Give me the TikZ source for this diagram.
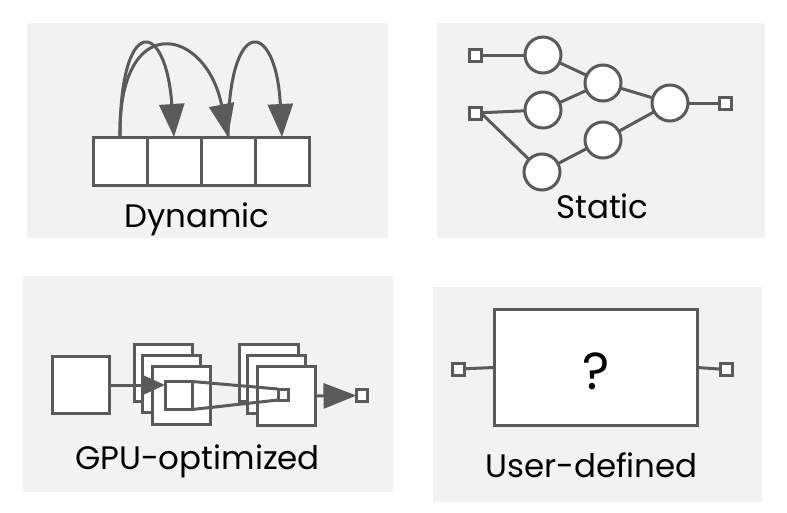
\documentclass[tikz,border=0pt]{standalone}
\usepackage{fontspec}
\setmainfont{Poppins}
\usetikzlibrary{arrows.meta}
\definecolor{ink}{RGB}{90,90,90}
\definecolor{panel}{RGB}{242,242,242}
\begin{document}
\begin{tikzpicture}[x=1pt,y=-1pt,
  every node/.style={inner sep=0pt, outer sep=0pt},
  box/.style={draw=ink, fill=white, line width=3pt, rectangle},
  port/.style={box, minimum width=12pt, minimum height=12pt},
  ball/.style={draw=ink, fill=white, line width=3pt, circle, minimum size=36pt},
  wire/.style={draw=ink, line width=3pt},
  bigarrow/.style={wire, -{Triangle[length=33pt,width=25pt]}},
  smallarrow/.style={wire, -{Triangle[length=23pt,width=20pt]}},
  lbl/.style={anchor=base, text=black, font=\fontsize{32.5}{38}\selectfont},
]
\useasboundingbox (0,0) rectangle (787,512);
% panels
\fill[panel] (27,23) rectangle (388,238);
\fill[panel] (437,23) rectangle (765,238);
\fill[panel] (23,276) rectangle (393,492);
\fill[panel] (433,287) rectangle (762,502);

% ---------- Dynamic ----------
\foreach \i/\x in {1/120,2/174,3/228,4/282}
  \node[box, minimum width=54pt, minimum height=48pt] (b\i) at (\x,161) {};
\draw[bigarrow] (b1.north) .. controls +(0,-124) and +(-8,-118) .. (b2.north);
\draw[bigarrow] (b1.north) .. controls +(-2,-128) and +(-22,-110) .. (b3.north);
\draw[bigarrow] (b3.north) .. controls +(0,-124) and +(-6,-118) .. (b4.north);
\node[lbl] (tdyn) at (197,227) {Dynamic};

% ---------- Static ----------
\node[port] (in1) at (475,55) {};
\node[port] (in2) at (475,113) {};
\node[ball] (A) at (543,55) {};
\node[ball] (B) at (543,110) {};
\node[ball] (C) at (542,172) {};
\node[ball] (D) at (603,83) {};
\node[ball] (E) at (603,140) {};
\node[ball] (F) at (670,103) {};
\node[port] (out1) at (725,103) {};
\draw[wire] (in1) -- (A);
\draw[wire] (in2) -- (B);
\draw[wire] (in2.east) -- (C);
\draw[wire] (A) -- (D);
\draw[wire] (B) -- (D);
\draw[wire] (C) -- (E);
\draw[wire] (D) -- (F);
\draw[wire] (E) -- (F);
\draw[wire] (F) -- (out1);
\node[lbl] (tsta) at (602.5,218) {Static};

% ---------- GPU-optimized ----------
\node[box, minimum width=57pt, minimum height=57pt] (big) at (81,385) {};
\node[box, minimum width=58pt, minimum height=57pt] (s1a) at (163.5,373) {};
\node[box, minimum width=58pt, minimum height=57pt] (s1b) at (171.5,383.5) {};
\node[box, minimum width=58pt, minimum height=58pt] (s1c) at (181.5,395.5) {};
\node[box, minimum width=27pt, minimum height=28pt] (inner) at (178.5,395.5) {};
\node[box, minimum width=59pt, minimum height=57pt] (s2a) at (269,372.5) {};
\node[box, minimum width=58pt, minimum height=58pt] (s2b) at (276.5,384.5) {};
\node[box, minimum width=58pt, minimum height=59pt] (s2c) at (286.5,396) {};
\node[box, minimum width=10pt, minimum height=11pt] (tiny) at (283,394.5) {};
\node[port, minimum width=11pt, minimum height=12pt] (out2) at (362,395.5) {};
\draw[wire] (inner.north east) -- (tiny.north west);
\draw[wire] (inner.south east) -- (tiny.south west);
\draw[smallarrow] (big.east) -- (big.east -| inner.west);
\draw[bigarrow] (s2c.east) -- (out2.west);
\node[lbl] (tgpu) at (197.5,469) {GPU-optimized};

% ---------- User-defined ----------
\node[box, minimum width=203pt, minimum height=116pt] (udf) at (596,367.5) {};
\node[port] (in3) at (458,369) {};
\node[port] (out3) at (726,369.5) {};
\draw[wire] (in3) -- (udf.west);
\draw[wire] (udf.east) -- (out3);
\node[anchor=base, text=black, font=\fontsize{52}{60}\selectfont] (q) at (596,389) {?};
\node[lbl] (tudf) at (591.5,477) {User-defined};
\end{tikzpicture}
\end{document}
